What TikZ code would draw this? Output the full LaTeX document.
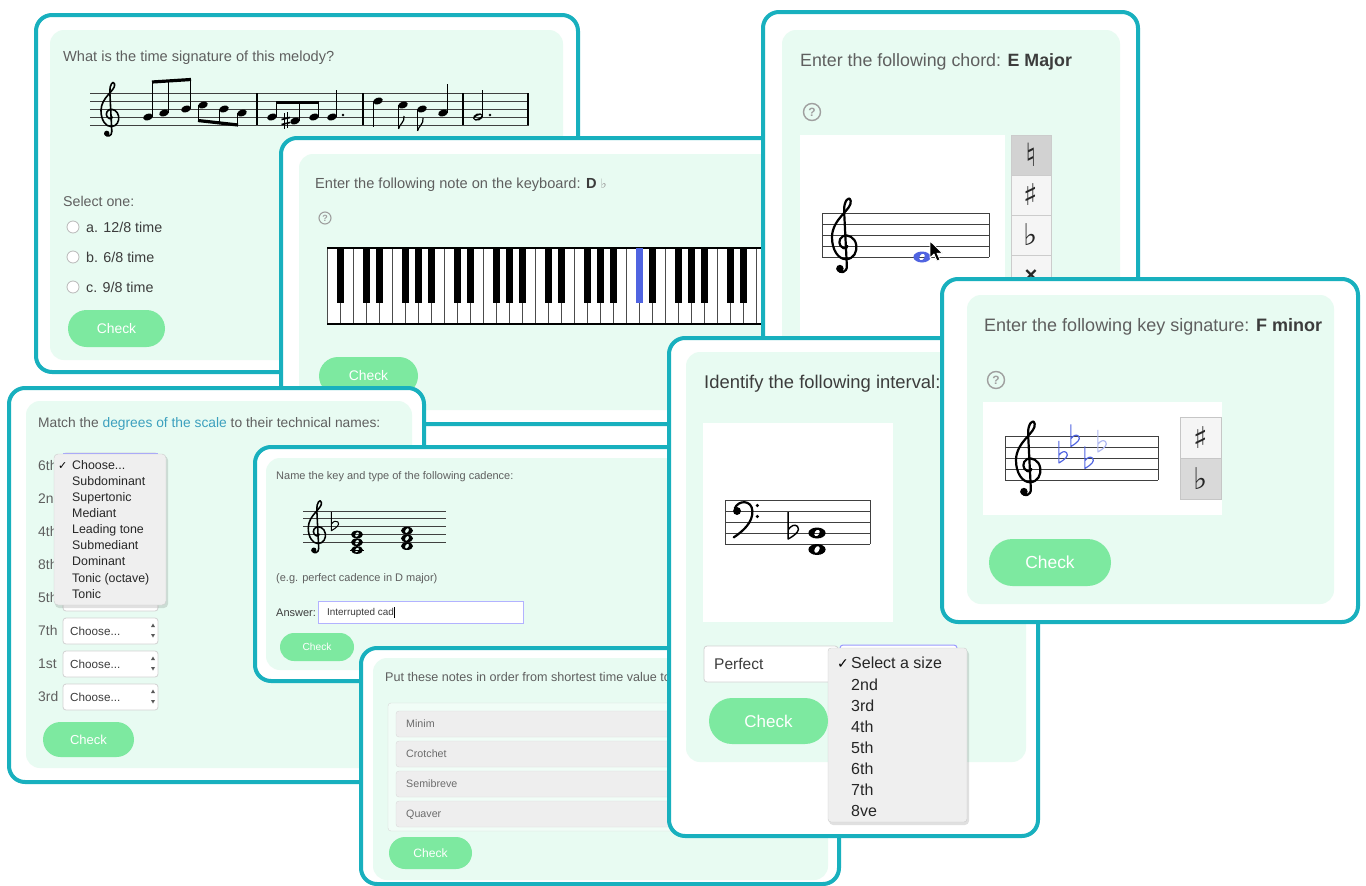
\documentclass[tikz,border=0pt]{standalone}
\usepackage{fontspec}
\setmainfont{Liberation Sans}
\newfontfamily\dejavu{DejaVu Sans}
\usetikzlibrary{shapes.misc}
\newcommand\fsz[1]{\fontsize{#1}{#1}\selectfont}
\newcommand\chs{Choose.{}.{}.}
\definecolor{tealb}{RGB}{24,176,190}
\definecolor{mint}{RGB}{232,251,242}
\definecolor{btng}{RGB}{125,233,160}
\definecolor{qgray}{RGB}{95,95,95}
\definecolor{dgray}{RGB}{60,60,60}
\definecolor{linkc}{RGB}{60,160,190}
\definecolor{bluen}{RGB}{80,100,225}
\definecolor{menubg}{RGB}{239,239,239}
\tikzset{
  card/.style={draw=tealb, line width=4pt, fill=white, rounded corners=16pt},
  panel/.style={fill=mint, rounded corners=14pt},
  lbl/.style={anchor=base west, inner sep=0pt, text=qgray},
  btn/.style={shape=rounded rectangle, fill=btng, text=white, inner sep=0pt},
  staffl/.style={draw=black!75, line width=0.9pt},
  helpic/.style={circle, draw=gray!75, line width=1.1pt, inner sep=0pt, minimum size=12pt, text=gray!75, font=\fsz{9}\bfseries},
  bighelp/.style={helpic, minimum size=17pt, line width=1.4pt, font=\fsz{12}\bfseries},
  selbox/.style={draw=gray!35, fill=white, rounded corners=3pt, line width=0.8pt},
  accid/.style={inner sep=0pt, text=black!85},
  pics/gclef/.style={code={
    \begin{scope}[x=#1,y=#1,line width=0.2*#1,line cap=round,line join=round]
      \draw (0.35,-1.8) -- (0.1,3.2) .. controls (0.05,4.0) and (0.55,4.7) .. (0.7,4.1)
        .. controls (0.85,3.3) and (-1.0,2.5) .. (-1.0,0.8)
        .. controls (-1.0,-0.4) and (-0.4,-1.2) .. (0.25,-1.2)
        .. controls (1.0,-1.2) and (1.3,-0.5) .. (1.2,0.1)
        .. controls (1.1,0.8) and (0.4,1.1) .. (0.0,0.9)
        .. controls (-0.45,0.65) and (-0.45,0.0) .. (0.05,-0.2)
        .. controls (0.25,-0.25) and (0.4,-0.15) .. (0.4,0.0);
      \draw (0.35,-1.8) .. controls (0.4,-2.4) and (-0.3,-2.6) .. (-0.5,-2.1);
      \fill (-0.28,-2.05) circle (0.34);
    \end{scope}}},
  pics/fclef/.style={code={
    \begin{scope}[x=#1,y=#1,line width=0.2*#1,line cap=round]
      \fill (0,0) circle (0.36);
      \draw (-0.2,0.25) .. controls (0.1,1.0) and (1.35,1.05) .. (1.4,0.0)
        .. controls (1.45,-1.0) and (0.6,-1.8) .. (-0.3,-2.4);
      \fill (1.85,0.5) circle (0.16) (1.85,-0.5) circle (0.16);
    \end{scope}}},
  pics/flat/.style={code={
    \begin{scope}[x=#1,y=#1,line width=0.13*#1,line join=round]
      \draw (-0.35,1.9) -- (-0.35,-0.55) .. controls (0.35,-0.15) and (0.8,0.25) .. (0.5,0.6)
        .. controls (0.25,0.85) and (-0.1,0.65) .. (-0.35,0.3);
    \end{scope}}},
  pics/wnote/.style={code={
    \begin{scope}[x=#1,y=#1]
      \fill[even odd rule] (0,0) ellipse (0.78 and 0.5) {[rotate=60] (0,0) ellipse (0.34 and 0.22)};
    \end{scope}}},
  pics/qhead/.style={code={
    \begin{scope}[x=#1,y=#1]
      \fill[rotate=20] (0,0) ellipse (0.62 and 0.42);
    \end{scope}}},
  pics/hhead/.style={code={
    \begin{scope}[x=#1,y=#1]
      \fill[even odd rule,rotate=20] (0,0) ellipse (0.64 and 0.44) {[rotate=5] (0,0) ellipse (0.5 and 0.18)};
    \end{scope}}}
}
\begin{document}
\begin{tikzpicture}[x=1pt,y=-1pt]
\useasboundingbox (0,0) rectangle (1366,886);
\fill[white] (0,0) rectangle (1366,886);

% ================= Card A : time signature
\draw[card] (36,15) rectangle (578,372);
\fill[panel] (50,30) rectangle (563,360);
\node[lbl] (tA) at (63,61) {\fsz{14.6}What is the time signature of this melody?};
\foreach \k in {0,...,4} \draw[staffl] (90,93+8*\k) -- (529,93+8*\k);
\foreach \b in {257,363,463,528} \draw[line width=1.1pt] (\b,93) -- (\b,125);
\pic at (109,117) {gclef=8pt};
\foreach \p in {(148,117),(164,113),(186,109),(203,105),(224,109),(242,113),(272,117),(295,121),(314,117),(332,117),(378,101),(403,105),(422,109),(443,113)} \pic at \p {qhead=8pt};
\pic at (478,117) {hhead=8pt};
\begin{scope}[line width=1pt]
  \draw (152.5,117) -- (152.5,81.5) (168.5,113) -- (168.5,80.5) (190.5,109) -- (190.5,79);
  \draw (198.5,105) -- (198.5,121) (219.5,109) -- (219.5,123.5) (237.5,113) -- (237.5,125.5);
  \draw (276.5,117) -- (276.5,101) (299.5,121) -- (299.5,101) (318.5,117) -- (318.5,101);
  \draw (336.5,117) -- (336.5,90) (373.5,101) -- (373.5,127) (398.5,105) -- (398.5,129)
        (417.5,109) -- (417.5,131) (447.5,113) -- (447.5,84) (482.5,117) -- (482.5,90);
\end{scope}
\draw[line width=3.2pt] (152,82) -- (191,79.5);
\draw[line width=3.2pt] (198,120.5) -- (238,125);
\draw[line width=3.2pt] (276,102.5) -- (319,102.5);
\draw[line width=1.2pt] (398.5,129) .. controls (399.5,124) and (405,122) .. (404,116);
\draw[line width=1.2pt] (417.5,131) .. controls (418.5,126) and (424,124) .. (423,118);
\fill (343,115) circle (1.4pt) (490,115) circle (1.4pt);
\draw[line width=0.8pt] (284,113) -- (284,129) (287.5,112) -- (287.5,128);
\draw[line width=1.6pt] (281.5,119.5) -- (290,117.5) (281.5,124.5) -- (290,122.5);
\node[lbl] (selA) at (63,206) {\fsz{14.2}Select one:};
\foreach \y/\t [count=\i] in {227/a. 12\slash 8 time,257/b. 6\slash 8 time,287/c. 9\slash 8 time} {
  \node[circle, draw=gray!55, fill=white, line width=0.8pt, minimum size=12pt, inner sep=0pt] (rA\i) at (73,\y) {};
  \node[lbl, text=dgray] (oA\i) at (86,\y+5) {\fsz{14.3}\t};
}
\node[btn, minimum width=97pt, minimum height=37pt] (chkA) at (116.5,328.5) {\fsz{13.9}Check};

% ================= Card B : keyboard
\draw[card] (281,138) rectangle (790,424);
\fill[panel] (299,154) rectangle (776,410);
\node[lbl] (tB) at (315,188) {\fsz{14.6}Enter the following note on the keyboard: {\color{dgray}\bfseries D} {\dejavu\fsz{13}\color{gray!80}♭}};
\node[helpic] (hB) at (325,218) {?};
\fill[white] (327,248) rectangle (782,324);
\foreach \i in {0,...,35} \draw[black!70, line width=0.8pt] (327+13*\i,248) -- (327+13*\i,324);
\draw[black, line width=1.2pt] (327,248) -- (782,248) (327,324) -- (782,324);
\foreach \i in {0,2,3,5,6,7,9,10,12,13,14,16,17,19,20,21,24,26,27,28,30,31,33,34}
  \fill (336.5+13*\i,248) rectangle ++(7,55);
\fill[bluen] (635.5,248) rectangle ++(7,55);
\node[btn, minimum width=99pt, minimum height=38pt] (chkB) at (368.5,376) {\fsz{13.9}Check};

% ================= Card C : chord
\draw[card] (763,12) rectangle (1138,560);
\fill[panel] (782,30) rectangle (1120,545);
\node[lbl] (tC) at (800,66) {\fsz{17.8}Enter the following chord: {\color{dgray}\bfseries E Major}};
\node[bighelp] (hC) at (812,112) {?};
\fill[white] (800,135) rectangle (1005,540);
\foreach \k in {0,...,4} \draw[staffl] (822,213+11*\k) -- (989,213+11*\k);
\draw[staffl] (822,213) -- (822,257) (989,213) -- (989,257);
\pic at (843,246) {gclef=11pt};
\pic[color=bluen] at (922,257) {wnote=11pt};
\draw[fill=black, draw=white, line width=0.8pt, line join=round] (930,241) -- ++(0,17) -- ++(4,-4) -- ++(3,7) -- ++(3,-1.3) -- ++(-3,-6.5) -- ++(5.5,0) -- cycle;
\draw[draw=gray!40, fill=gray!35] (1011,135) rectangle (1051,175);
\draw[draw=gray!40, fill=gray!8] (1011,175) rectangle (1051,215);
\draw[draw=gray!40, fill=gray!8] (1011,215) rectangle (1051,255);
\draw[draw=gray!40, fill=gray!8] (1011,255) rectangle (1051,295);
\node[accid] (nat) at (1031,155) {\dejavu\fsz{32}♮};
\node[accid] (shC) at (1031,195) {\dejavu\fsz{30}♯};
\node[accid] (flC) at (1031,235) {\dejavu\fsz{30}♭};
\node[accid] (dsC) at (1031,276) {\fsz{22}\bfseries ×};

% ================= Card D : degrees
\draw[card] (9,388) rectangle (424,782);
\fill[panel] (26,401) rectangle (412,768);
\node[lbl] (tD) at (38,427) {\fsz{13.8}Match the {\color{linkc}degrees of the scale} to their technical names:};
\foreach \t [count=\k from 0] in {6th,2nd,4th,8th,5th,7th,1st,3rd} {
  \node[lbl] (lD\k) at (38,466+33*\k+4.9) {\fsz{13.9}\t};
  \draw[selbox] (63,453+33*\k) rectangle (158,479+33*\k);
}
\foreach \k in {5,6,7} {
  \node[lbl, text=dgray] (cD\k) at (70,466+33*\k+4.1) {\fsz{11.7}\chs};
  \fill[gray!70!black] (151,462+33*\k) -- (155,462+33*\k) -- (153,458.5+33*\k) -- cycle;
  \fill[gray!70!black] (151,469+33*\k) -- (155,469+33*\k) -- (153,472.5+33*\k) -- cycle;
}
\draw[draw=blue!35, rounded corners=3pt, line width=1pt] (63,453) -- (158,453);
\fill[black, opacity=0.12, rounded corners=4pt] (55,456) rectangle (168,608);
\draw[fill=menubg, draw=gray!40, rounded corners=4pt] (54,454) rectangle (166,605);
\node[anchor=base west, inner sep=0pt] (ckD) at (58,469.3) {\dejavu\fsz{11}✓};
\foreach \t [count=\k from 0] in {\chs,Subdominant,Supertonic,Mediant,Leading tone,Submediant,Dominant,Tonic (octave),Tonic}
  \node[anchor=base west, inner sep=0pt, text=black!85] (mD\k) at (72,465.3+16.06*\k+4.3) {\fsz{12.4}\t};
\node[btn, minimum width=91pt, minimum height=35pt] (chkD) at (88.5,739.5) {\fsz{13}Check};

% ================= Card E : cadence
\draw[card] (255,447) rectangle (690,681);
\fill[panel] (266,458) rectangle (680,670);
\node[lbl] (tE) at (276,479) {\fsz{11}Name the key and type of the following cadence:};
\foreach \k in {0,...,4} \draw[staffl, line width=0.8pt] (303,511+7.75*\k) -- (446,511+7.75*\k);
\pic at (316,534.25) {gclef=7.75pt};
\pic at (334,526.5) {flat=7.75pt};
\draw[line width=0.9pt] (350,550) -- (364,550);
\foreach \y in {550,542.25,534.5} \pic at (357,\y) {wnote=7.75pt};
\foreach \y in {546.1,538.4,530.6} \pic at (407,\y) {wnote=7.75pt};
\node[lbl] (egE) at (276,581) {\fsz{11}(e.g. perfect cadence in D major)};
\node[lbl, text=dgray] (ansE) at (276,616) {\fsz{11}Answer:};
\draw[draw=blue!30, fill=white, line width=0.9pt] (318,601) rectangle (523,623);
\node[lbl, text=dgray] (inE) at (327,615.5) {\fsz{9.9}Interrupted cad};
\draw[line width=0.6pt] ([xshift=0.8pt]inE.base east) ++(0,2) -- ++(0,-11);
\node[btn, minimum width=74pt, minimum height=28pt] (chkE) at (317,647) {\fsz{10.2}Check};

% ================= Card H : order notes
\draw[card] (361,648) rectangle (839,884);
\fill[panel] (373,658) rectangle (828,880);
\node[lbl] (tH) at (385,681.5) {\fsz{12.6}Put these notes in order from shortest time value to};
\draw[draw=gray!30, fill=mint!60!white, rounded corners=3pt] (388,703) rectangle (820,831);
\foreach \t [count=\k from 0] in {Minim,Crotchet,Semibreve,Quaver} {
  \draw[draw=gray!30, fill=gray!13, rounded corners=3pt] (396,711+30*\k) rectangle (812,737+30*\k);
  \node[lbl, text=gray!85!black] (iH\k) at (406,724+30*\k+3.8) {\fsz{10.7}\t};
}
\node[btn, minimum width=83pt, minimum height=32pt] (chkH) at (430.5,853) {\fsz{12.1}Check};

% ================= Card F : interval
\draw[card] (669,338) rectangle (1038,836);
\fill[panel] (686,352) rectangle (1026,762);
\node[lbl, text=dgray] (tF) at (704,388.5) {\fsz{18.4}Identify the following interval:};
\fill[white] (703,423) rectangle (893,622);
\foreach \k in {0,...,4} \draw[staffl] (725,500+11*\k) -- (870,500+11*\k);
\draw[staffl] (725,500) -- (725,544) (870,500) -- (870,544);
\pic at (737,511) {fclef=11pt};
\pic at (792,533) {flat=11pt};
\pic at (817,533) {wnote=11pt};
\pic at (817,549.5) {wnote=11pt};
\draw[selbox] (704,646) rectangle (838,682);
\node[lbl, text=dgray] (pF) at (714,669.5) {\fsz{15.5}Perfect};
\draw[draw=blue!40, fill=white, rounded corners=3pt, line width=1pt] (840,645) rectangle (957,682);
\fill[black, opacity=0.12, rounded corners=4pt] (829,650) rectangle (969,825);
\draw[fill=menubg, draw=gray!40, rounded corners=3pt] (828,648) rectangle (967,822);
\node[anchor=base west, inner sep=0pt] (ckF) at (837,668.5) {\dejavu\fsz{14}✓};
\foreach \t [count=\k from 0] in {Select a size,2nd,3rd,4th,5th,6th,7th,8ve}
  \node[anchor=base west, inner sep=0pt, text=black!85] (mF\k) at (851,663.3+21.1*\k+5.6) {\fsz{16}\t};
\node[btn, minimum width=119pt, minimum height=46pt] (chkF) at (768.5,721) {\fsz{17}Check};

% ================= Card G : key signature
\draw[card] (942,279) rectangle (1358,622);
\fill[panel] (967,295) rectangle (1334,604);
\node[lbl] (tG) at (984,331) {\fsz{18}Enter the following key signature: {\color{dgray}\bfseries F minor}};
\node[bighelp] (hG) at (996,380) {?};
\fill[white] (983,402) rectangle (1222,515);
\foreach \k in {0,...,4} \draw[staffl] (1005,436+11*\k) -- (1158,436+11*\k);
\draw[staffl] (1005,436) -- (1005,480) (1158,436) -- (1158,480);
\pic at (1027,469) {gclef=11pt};
\pic[color=bluen] at (1062,458) {flat=9pt};
\pic[color=bluen] at (1074,441.5) {flat=9pt};
\pic[color=bluen] at (1088,463.5) {flat=9pt};
\pic[color=bluen!45] at (1101,447) {flat=9pt};
\draw[draw=gray!45, fill=gray!8] (1180,417) rectangle (1221,458);
\draw[draw=gray!45, fill=gray!30] (1180,458) rectangle (1221,499);
\node[accid] (shG) at (1200.5,437.5) {\dejavu\fsz{30}♯};
\node[accid] (flG) at (1200.5,478.5) {\dejavu\fsz{30}♭};
\node[btn, minimum width=122pt, minimum height=47pt] (chkG) at (1050,562.5) {\fsz{17.4}Check};
\end{tikzpicture}
\end{document}
